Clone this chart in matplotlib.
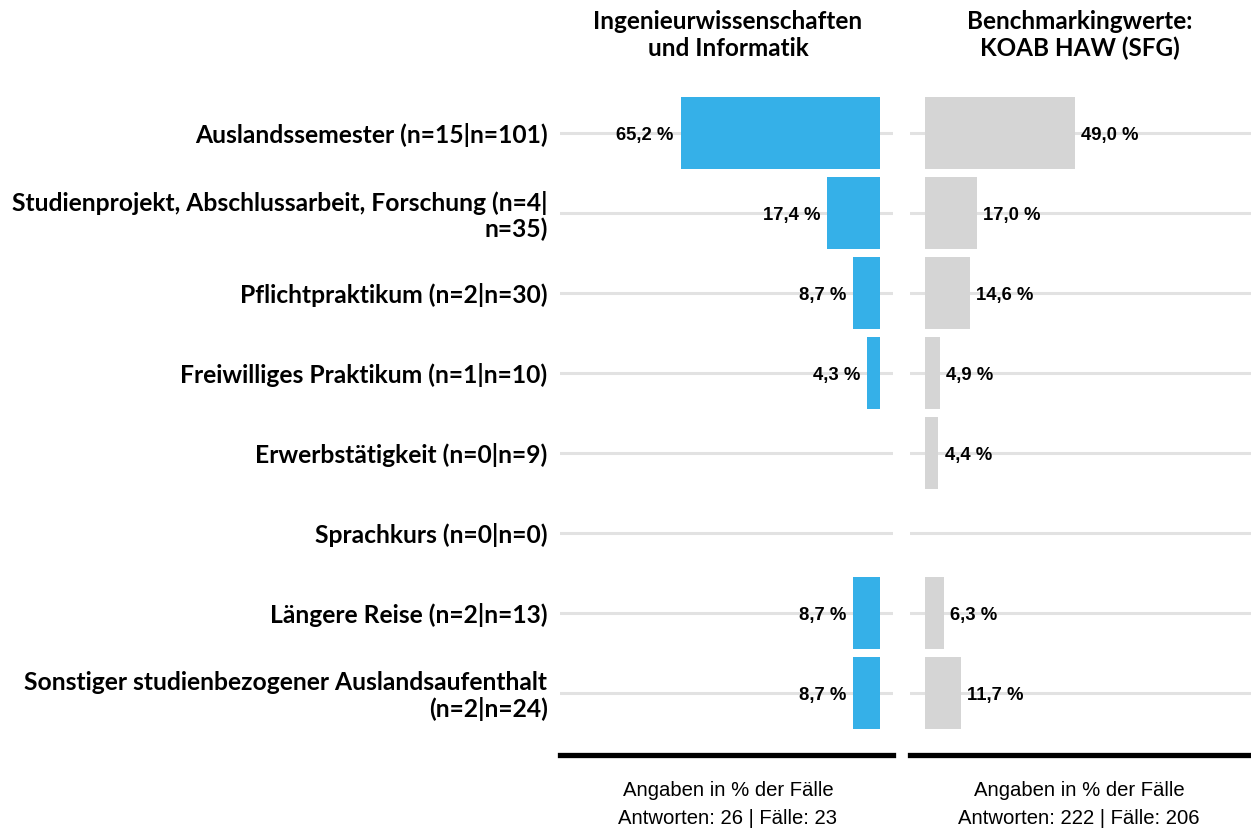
import matplotlib
matplotlib.use("Agg")
import matplotlib.pyplot as plt
import numpy as np

categories = [
    "Auslandssemester (n=15|n=101)",
    "Studienprojekt, Abschlussarbeit, Forschung (n=4|\nn=35)",
    "Pflichtpraktikum (n=2|n=30)",
    "Freiwilliges Praktikum (n=1|n=10)",
    "Erwerbstätigkeit (n=0|n=9)",
    "Sprachkurs (n=0|n=0)",
    "Längere Reise (n=2|n=13)",
    "Sonstiger studienbezogener Auslandsaufenthalt\n(n=2|n=24)",
]
values_ing = [65.2, 17.4, 8.7, 4.3, 0.0, 0.0, 8.7, 8.7]
values_koab = [49.0, 17.0, 14.6, 4.9, 4.4, 0.0, 6.3, 11.7]

title_ing = "Ingenieurwissenschaften\nund Informatik"
title_koab = "Benchmarkingwerte:\nKOAB HAW (SFG)"
footer_ing = "Angaben in % der Fälle\nAntworten: 26 | Fälle: 23"
footer_koab = "Angaben in % der Fälle\nAntworten: 222 | Fälle: 206"

BLUE = "#35b0e8"
GREY = "#d5d5d5"
GRID = "#e2e2e2"
LABEL_FONT = "Lato"
VALUE_FONT = "Liberation Sans"

W, H = 1251, 831
fig = plt.figure(figsize=(W / 100, H / 100), dpi=100)

top_px, bot_px = 93, 755
ax_l = fig.add_axes([560 / W, 1 - bot_px / H, 333 / W, (bot_px - top_px) / H])
ax_r = fig.add_axes([910 / W, 1 - bot_px / H, 341 / W, (bot_px - top_px) / H])

y = np.arange(len(categories))


def fmt(v):
    return f"{v:.1f} %".replace(".", ",")


def style(ax):
    for s in ("top", "left", "right"):
        ax.spines[s].set_visible(False)
    ax.spines["bottom"].set_linewidth(3.8)
    ax.spines["bottom"].set_color("black")
    ax.set_xticks([])
    ax.set_yticks(y)
    ax.tick_params(axis="y", length=0)
    for yy in y:
        ax.axhline(yy, color=GRID, lw=2.2, zorder=0)
    ax.set_ylim(len(categories) - 0.225, -0.5)


# left panel: bars grow leftwards
ax_l.barh(y, values_ing, height=0.91, color=BLUE, zorder=2)
ax_l.set_xlim(104.6, -4.25)
style(ax_l)
ax_l.set_yticklabels(categories, fontsize=17.7, fontweight="bold",
                     family=LABEL_FONT, ha="right", linespacing=1.12)
ax_l.tick_params(axis="y", pad=9)
for yy, v in zip(y, values_ing):
    if v > 0:
        ax_l.text(v + 2.2, yy + 0.03, fmt(v), ha="right", va="center",
                  fontsize=13.3, fontweight="bold", family=VALUE_FONT)

# right panel
ax_r.barh(y, values_koab, height=0.91, color=GREY, zorder=2)
ax_r.set_xlim(-4.9, 106.5)
style(ax_r)
ax_r.set_yticklabels([])
for yy, v in zip(y, values_koab):
    if v > 0:
        ax_r.text(v + 2.0, yy + 0.03, fmt(v), ha="left", va="center",
                  fontsize=13.3, fontweight="bold", family=VALUE_FONT)

# titles and footers
fig.text(728 / W, 1 - 35 / H, title_ing, ha="center", va="center",
         fontsize=17.5, fontweight="bold", family=LABEL_FONT, linespacing=1.2)
fig.text(1080 / W, 1 - 35 / H, title_koab, ha="center", va="center",
         fontsize=17.5, fontweight="bold", family=LABEL_FONT, linespacing=1.2)
fig.text(728 / W, 1 - 805 / H, footer_ing, ha="center", va="center",
         fontsize=14.6, family=VALUE_FONT, linespacing=1.6)
fig.text(1079 / W, 1 - 805 / H, footer_koab, ha="center", va="center",
         fontsize=14.6, family=VALUE_FONT, linespacing=1.6)

fig.savefig("out.png", dpi=100)
